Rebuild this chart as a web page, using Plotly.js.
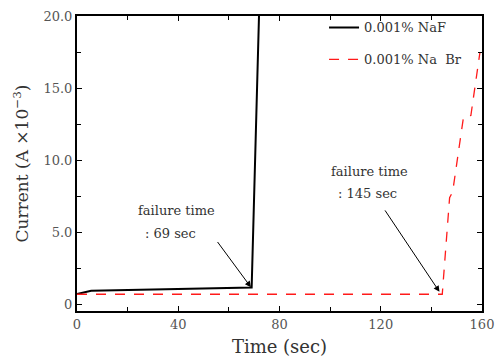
<!DOCTYPE html>
<html><head><meta charset="utf-8">
<script src="https://cdn.plot.ly/plotly-3.0.1.min.js"></script>
<style>html,body{margin:0;padding:0;background:#fff}#chart{width:499px;height:364px}</style>
</head><body><div id="chart"></div>
<script>
const nafTime = [0, 5.6, 69, 71.9];
const nafCurrent = [0.71, 0.94, 1.17, 20];
const nabrTime = [0, 144.3, 147.2, 148.4, 152.7, 155.6, 159.2];
const nabrCurrent = [0.7, 0.7, 7.4, 7.8, 13.0, 13.1, 17.5];
const seriesNames = ['0.001% NaF', '0.001% Na  Br'];
const xTicks = [0, 40, 80, 120, 160];
const xTickText = ['0', '40', '80', '120', '160'];
const yTicks = [0, 5, 10, 15, 20];
const yTickText = ['0', '5.0', '10.0', '15.0', '20.0'];
const notes = [
  {x: 39.3, y: 6.52, text: 'failure time'},
  {x: 36.8, y: 4.94, text: ': 69 sec'},
  {x: 115.4, y: 9.2, text: 'failure time'},
  {x: 114.8, y: 7.71, text: ': 145 sec'}
];
const arrows = [
  {x: 68.7, y: 1.19, ax: 55.1, ay: 4.43},
  {x: 143.2, y: 0.87, ax: 121.3, ay: 6.62}
];
const font = 'DejaVu Serif, Liberation Serif, serif';
const traces = [
  {x: nafTime, y: nafCurrent, name: seriesNames[0], mode: 'lines', legendgroup: 'a',
   line: {color: '#000', width: 2}},
  {x: nabrTime, y: nabrCurrent, name: seriesNames[1], mode: 'lines', legendgroup: 'b',
   line: {color: '#ff1a1a', width: 1.3, dash: '10px,9px'}}
];
const annotations = notes.map(n => ({x: n.x, y: n.y, xref: 'x', yref: 'y', text: n.text,
  showarrow: false, font: {family: font, size: 13, color: '#333'}}))
 .concat(arrows.map(a => ({x: a.x, y: a.y, ax: a.ax, ay: a.ay, axref: 'x', ayref: 'y',
  xref: 'x', yref: 'y', text: '', showarrow: true, arrowhead: 2, arrowsize: 1.2,
  arrowwidth: 1, arrowcolor: '#000'})));
const axisCommon = {showgrid: false, zeroline: false, showline: true, linecolor: '#000',
  linewidth: 2, mirror: 'ticks', ticks: 'inside', ticklen: 5, tickwidth: 1, tickcolor: '#000',
  tickfont: {family: font, size: 13, color: '#555'}};
const layout = {
  width: 499, height: 364,
  margin: {l: 77, r: 17, t: 14, b: 53},
  paper_bgcolor: '#fff', plot_bgcolor: '#fff',
  font: {family: font, color: '#333'},
  showlegend: true,
  legend: {x: 0.61, y: 1.012, xanchor: 'left', yanchor: 'top', bgcolor: 'rgba(0,0,0,0)',
    font: {family: font, size: 13, color: '#333'}, traceorder: 'grouped', tracegroupgap: 12},
  xaxis: Object.assign({}, axisCommon, {range: [0, 160], tickvals: xTicks, ticktext: xTickText,
    minor: {ticks: 'inside', ticklen: 4, dtick: 20, tickcolor: '#000'},
    title: {text: 'Time (sec)', font: {family: font, size: 18, color: '#333'}, standoff: 10}}),
  yaxis: Object.assign({}, axisCommon, {range: [-0.46, 20], tickvals: yTicks, ticktext: yTickText,
    minor: {ticks: 'inside', ticklen: 4, tickvals: [2.5, 7.5, 12.5, 17.5], tickcolor: '#000'},
    title: {text: 'Current (A \u00d710<sup>\u22123</sup>)', font: {family: font, size: 17, color: '#333'}, standoff: 10}}),
  annotations: annotations
};
Plotly.newPlot('chart', traces, layout, {displayModeBar: false, staticPlot: true});
</script></body></html>
